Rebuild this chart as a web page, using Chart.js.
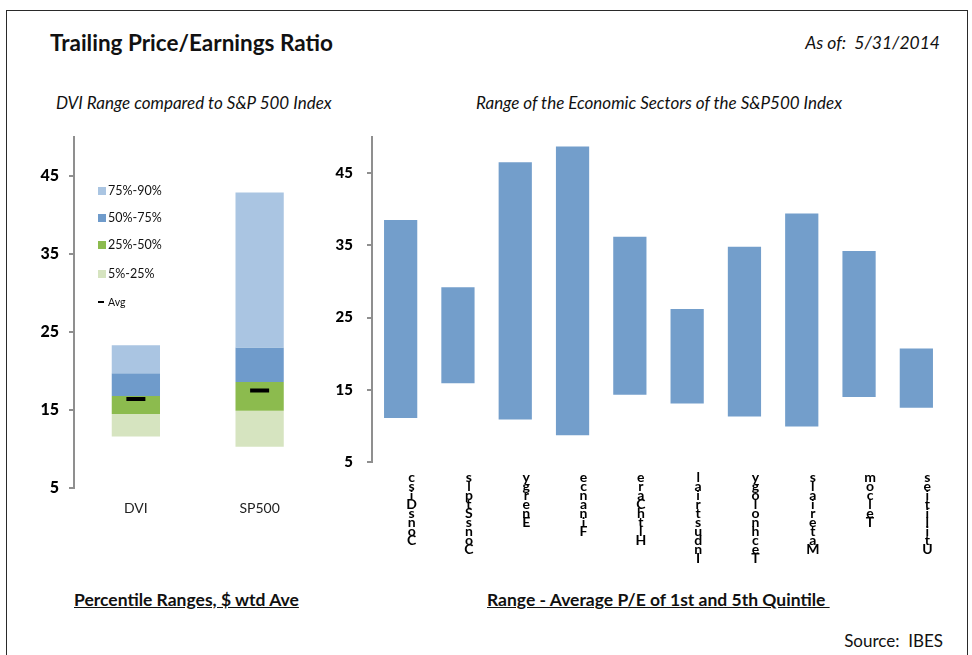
<!DOCTYPE html>
<html>
<head>
<meta charset="utf-8">
<script src="https://cdn.jsdelivr.net/npm/chart.js@4.4.1/dist/chart.umd.min.js"></script>
<style>
  body { margin: 0; width: 972px; height: 655px; background: #fff; position: relative; overflow: hidden; font-family: Lato, 'Open Sans', sans-serif; color: #111; }
  #frame { position: absolute; left: 6px; top: 10px; width: 962px; height: 700px; border: 1.5px solid #2a2a2a; box-sizing: border-box; }
  .txt { position: absolute; white-space: pre; }
  #title { left: 50px; top: 30px; height: 26px; line-height: 26px; font-size: 22.5px; font-weight: bold; }
  #asof { right: 32px; top: 32px; height: 22px; line-height: 22px; font-size: 17.5px; font-style: italic; }
  .sub { top: 92px; height: 22px; line-height: 22px; font-size: 17px; font-style: italic; }
  .cap { top: 590px; height: 20px; line-height: 20px; font-size: 17.5px; font-weight: bold; text-decoration: underline; }
  #source { right: 29px; top: 630px; height: 22px; line-height: 22px; font-size: 17px; }
  .box { position: absolute; }
  #legend { position: absolute; left: 98px; top: 183px; font-size: 12.5px; color: #111; }
  .lg { position: absolute; left: 0; height: 16px; line-height: 16px; white-space: nowrap; }
  .sw { display: inline-block; width: 8px; height: 8px; margin-right: 2px; }
  .dash { display: inline-block; width: 6px; height: 2px; background: #000; margin-right: 4px; vertical-align: 3px; }
</style>
</head>
<body>
<div id="frame"></div>
<div class="txt" id="title">Trailing Price/Earnings Ratio</div>
<div class="txt" id="asof">As of:  5/31/2014</div>
<div class="txt sub" style="left:56px">DVI Range compared to S&amp;P 500 Index</div>
<div class="txt sub" style="left:476px">Range of the Economic Sectors of the S&amp;P500 Index</div>
<div class="box" style="left:0; top:120px; width:335px; height:407px"><canvas id="c1"></canvas></div>
<div class="box" style="left:335px; top:120px; width:625px; height:452px"><canvas id="c2"></canvas></div>
<div id="legend"></div>
<div class="txt cap" style="left:74px">Percentile Ranges, $ wtd Ave</div>
<div class="txt cap" style="left:487px">Range - Average P/E of 1st and 5th Quintile </div>
<div class="txt" id="source">Source:  IBES</div>
<script>
// left panel: percentile bands of trailing P/E
const funds = ['DVI', 'SP500'];
const band5to25 = [[11.6, 14.5], [10.3, 14.9]];
const band25to50 = [[14.5, 16.8], [14.9, 18.6]];
const band50to75 = [[16.8, 19.7], [18.6, 23.0]];
const band75to90 = [[19.7, 23.3], [23.0, 42.9]];
const avgPE = [16.4, 17.5];

// right panel: sector ranges, 1st vs 5th quintile
const sectors = ['ConsDisc', 'ConsStpls', 'Energy', 'Finance', 'HlthCare', 'Industrial', 'Technology', 'Materials', 'Telcom', 'Utilities'];
const sectorLow = [11.1, 15.9, 10.9, 8.7, 14.3, 13.1, 11.3, 9.9, 14.0, 12.5];
const sectorHigh = [38.5, 29.2, 46.5, 48.7, 36.2, 26.2, 34.8, 39.4, 34.2, 20.7];

const yTicks = [5, 15, 25, 35, 45];

Chart.defaults.font.family = 'Lato';
Chart.defaults.animation = false;

const axisGray = '#8f8f8f';
function yAxis(width, size, pad) {
  return {
    min: 5, max: 50,
    afterBuildTicks: s => { s.ticks = yTicks.map(v => ({ value: v })); },
    // fixed width, and no extra room reserved for the end labels
    afterFit: s => { s.width = width; s.paddingTop = 0; s.paddingBottom = 0; },
    ticks: { color: '#000', padding: pad, font: { size: size, weight: '900' } },
    grid: { drawOnChartArea: false, tickLength: 5, color: axisGray, lineWidth: 2 },
    border: { color: axisGray, width: 2 }
  };
}

const bandDefs = [
  { label: '75%-90%', data: band75to90, color: '#aac5e2' },
  { label: '50%-75%', data: band50to75, color: '#6f9bcb' },
  { label: '25%-50%', data: band25to50, color: '#8cbb4e' },
  { label: '5%-25%', data: band5to25, color: '#d6e4c0' }
];

new Chart(document.getElementById('c1'), {
  type: 'bar',
  data: {
    labels: funds,
    datasets: bandDefs.map(b => ({
      label: b.label, data: b.data, backgroundColor: b.color,
      grouped: false, barPercentage: 0.39, categoryPercentage: 1, order: 1
    })).concat([{
      type: 'line', label: 'Avg', data: avgPE, showLine: false,
      pointStyle: 'line', pointRadius: 9.5, pointHoverRadius: 9.5,
      borderColor: '#000', borderWidth: 4, order: 0
    }])
  },
  options: {
    responsive: true, maintainAspectRatio: false,
    layout: { padding: { top: 17, right: 11, left: 0, bottom: 0 } },
    plugins: { legend: { display: false }, tooltip: { enabled: false } },
    scales: {
      x: {
        afterFit: s => { s.height = 39; },
        grid: { display: false, drawTicks: false }, border: { display: false },
        ticks: { color: '#222', padding: 12, font: { size: 14 } }
      },
      y: yAxis(74, 16, 10)
    }
  }
});

// legend for the left panel
const legend = document.getElementById('legend');
const rowTops = [0, 27, 54, 82.5];
bandDefs.forEach((b, i) => {
  const d = document.createElement('div');
  d.className = 'lg';
  d.style.top = rowTops[i] + 'px';
  d.innerHTML = '<span class="sw" style="background:' + b.color + '"></span>' + b.label;
  legend.appendChild(d);
});
const avgRow = document.createElement('div');
avgRow.className = 'lg';
avgRow.style.top = '110.5px';
avgRow.style.fontSize = '10.5px';
avgRow.innerHTML = '<span class="dash"></span>Avg';
legend.appendChild(avgRow);

new Chart(document.getElementById('c2'), {
  type: 'bar',
  data: {
    labels: sectors.map(n => n.split('').reverse()),
    datasets: [{
      label: 'Range',
      data: sectors.map((n, i) => [sectorLow[i], sectorHigh[i]]),
      backgroundColor: '#739ecb', barPercentage: 0.58, categoryPercentage: 1
    }]
  },
  options: {
    responsive: true, maintainAspectRatio: false,
    layout: { padding: { top: 17, right: 15, left: 0, bottom: 0 } },
    plugins: { legend: { display: false }, tooltip: { enabled: false } },
    scales: {
      x: {
        afterFit: s => { s.height = 110; },
        grid: { display: false, drawTicks: false }, border: { display: false },
        ticks: { color: '#000', padding: 11, labelOffset: 11, maxRotation: 0, autoSkip: false,
                 font: { size: 14, weight: 'bold', lineHeight: '9px' } }
      },
      y: yAxis(37, 15, 14)
    }
  }
});
</script>
</body>
</html>
